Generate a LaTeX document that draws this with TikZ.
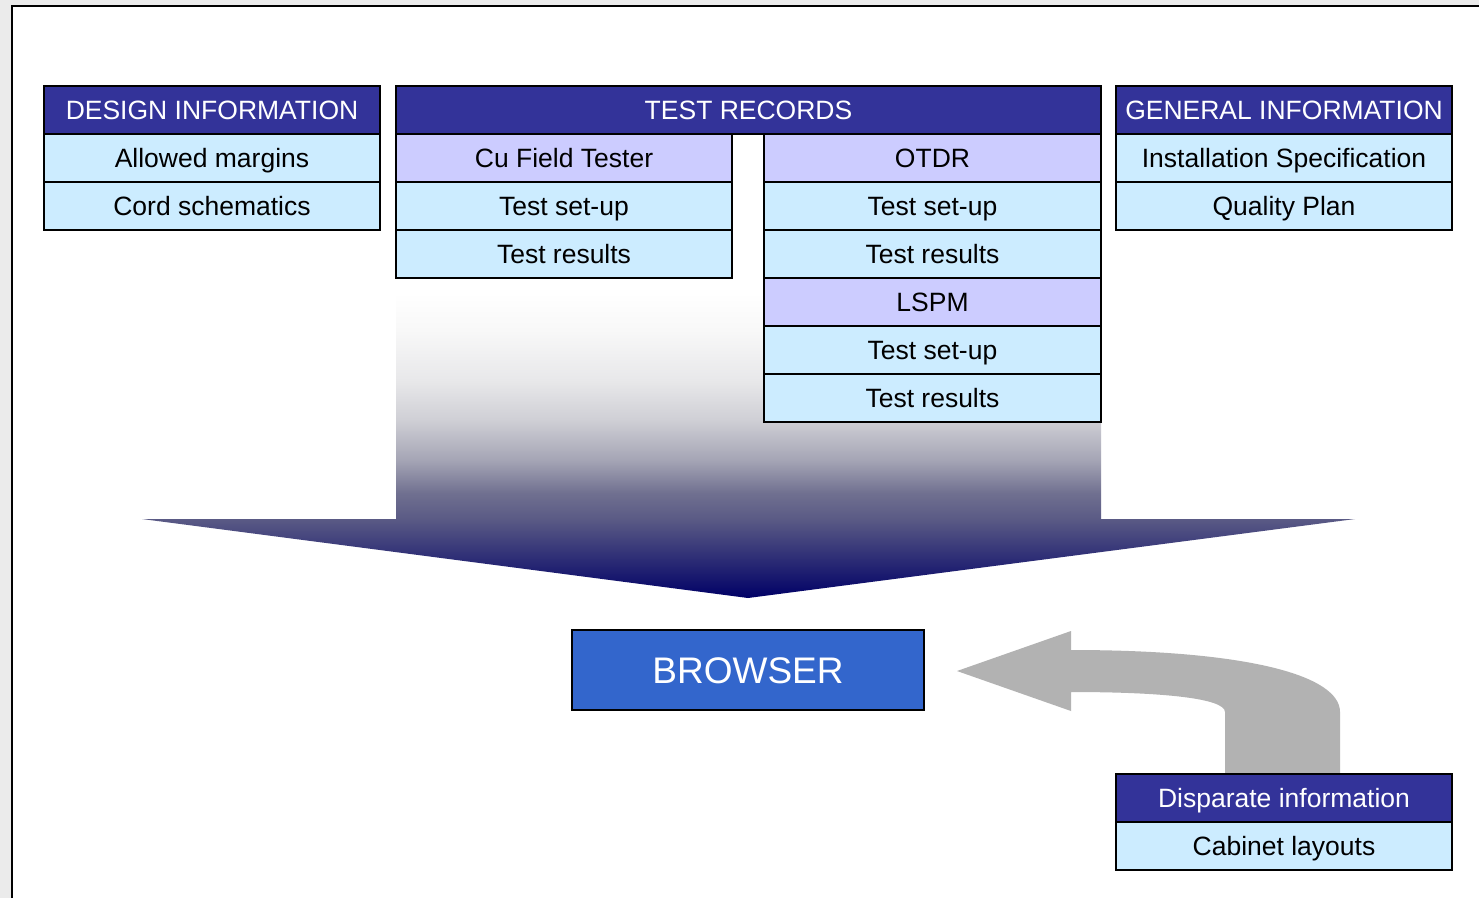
\documentclass[tikz,border=0pt]{standalone}
\usepackage{fontspec}
\setmainfont{Liberation Sans}
\definecolor{outerbg}{HTML}{EBEBEB}
\definecolor{hdrblue}{HTML}{333399}
\definecolor{lightblue}{HTML}{CCECFF}
\definecolor{lavender}{HTML}{CCCCFF}
\definecolor{browserblue}{HTML}{3366CC}
\definecolor{arrowgray}{HTML}{B2B2B2}
\definecolor{fnavy}{HTML}{000066}
\definecolor{fa}{HTML}{5A5A85}
\definecolor{fb}{HTML}{707090}
\definecolor{fc}{HTML}{A5A5B5}
\definecolor{fd}{HTML}{CFCFD5}
\definecolor{fe}{HTML}{E8E8EA}
\definecolor{ff}{HTML}{F8F8F8}
\pgfdeclareverticalshading{funnel}{100bp}{color(0bp)=(fnavy); color(25bp)=(fnavy); color(33.51bp)=(fa); color(36.31bp)=(fb); color(39.87bp)=(fc); color(44.18bp)=(fd); color(48.49bp)=(fe); color(53.88bp)=(ff); color(57.87bp)=(white); color(100bp)=(white)}
\begin{document}
\begin{tikzpicture}[x=1pt,y=-1pt,
  cell/.style={draw=black, line width=1.3pt, inner sep=0pt, outer sep=0pt, anchor=north west,
    minimum width=336pt, minimum height=48pt, text height=19pt, text depth=0pt,
    font=\fontsize{26.5}{30}\selectfont},
  hdr/.style={cell, fill=hdrblue, text=white},
  sub/.style={cell, fill=lightblue, text=black},
  lav/.style={cell, fill=lavender, text=black}]
\fill[outerbg] (0,0) rectangle (1479,898);
\useasboundingbox (0,0) rectangle (1479,898);
\fill[white] (12,6) rectangle (1479,898);
\draw[line width=2.5pt] (12,898) -- (12,6) -- (1479,6);
% funnel arrow
\shade[shading=funnel] (396,134) -- (396,519) -- (142,519) -- (748,598) -- (1355,519) -- (1101,519) -- (1101,134) -- cycle;
% gray curved arrow
\fill[arrowgray] (957,671) -- (1071,631) -- (1071,650)
  .. controls (1250,650) and (1340,676) .. (1340,712) -- (1340,774) -- (1225,774) -- (1225,712)
  .. controls (1225,698) and (1160,692) .. (1071,692) -- (1071,711) -- cycle;
% design information
\node[hdr] (design) at (44,86) {DESIGN INFORMATION};
\node[sub] (margins) at (44,134) {Allowed margins};
\node[sub] (cord) at (44,182) {Cord schematics};
% test records
\node[hdr, minimum width=705pt] (records) at (396,86) {TEST RECORDS};
\node[lav] (cu) at (396,134) {Cu Field Tester};
\node[sub] (cusetup) at (396,182) {Test set-up};
\node[sub] (curesults) at (396,230) {Test results};
\node[lav, minimum width=337pt] (otdr) at (764,134) {OTDR};
\node[sub, minimum width=337pt] (otdrsetup) at (764,182) {Test set-up};
\node[sub, minimum width=337pt] (otdrresults) at (764,230) {Test results};
\node[lav, minimum width=337pt] (lspm) at (764,278) {LSPM};
\node[sub, minimum width=337pt] (lspmsetup) at (764,326) {Test set-up};
\node[sub, minimum width=337pt] (lspmresults) at (764,374) {Test results};
% general information
\node[hdr] (general) at (1116,86) {GENERAL INFORMATION};
\node[sub] (install) at (1116,134) {Installation Specification};
\node[sub] (quality) at (1116,182) {Quality Plan};
% browser
\node[cell, fill=browserblue, text=white, minimum width=352pt, minimum height=80pt,
  text height=26.5pt, font=\fontsize{37}{42}\selectfont] (browser) at (572,630) {BROWSER};
% disparate information
\node[hdr] (disparate) at (1116,774) {Disparate information};
\node[sub] (cabinet) at (1116,822) {Cabinet layouts};
\end{tikzpicture}
\end{document}
